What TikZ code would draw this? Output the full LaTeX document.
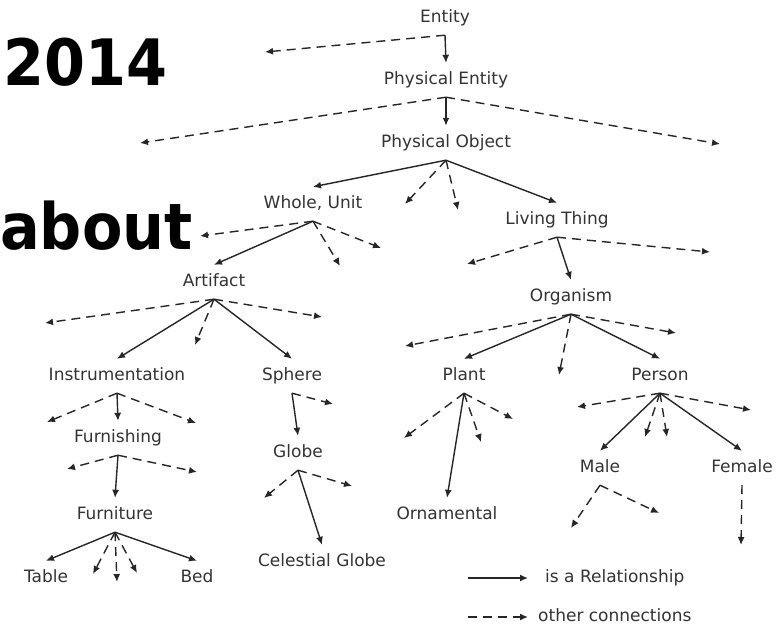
\documentclass[tikz,border=0pt]{standalone}
\usepackage{fontspec}
\setmainfont{DejaVu Sans}
\usetikzlibrary{arrows.meta}

\tikzset{
  concept/.style={inner sep=0pt, minimum height=34pt, text height=12pt, text depth=3.5pt,
    font=\fontsize{17}{17}\selectfont, text=black!80},
  legendtxt/.style={concept, anchor=west},
  bigword/.style={anchor=base west, inner sep=0pt, font=\bfseries\fontsize{64}{64}\selectfont},
  isa/.style={-{Latex[length=8pt,width=7pt]}, line width=1.4pt, draw=black!85},
  other/.style={isa, dash pattern=on 9pt off 6pt},
}

\begin{document}
\begin{tikzpicture}[x=1pt,y=-1pt]
\useasboundingbox (0,0) rectangle (784,627);

% Titulo
\node[bigword] (year) at (3,85) {\scalebox{0.92}[1]{2014}};
\node[bigword] (about) at (0,249) {\scalebox{0.92}[1]{about}};

% Conceptos
\node[concept] (entity) at (445,18) {Entity};
\node[concept] (physent) at (446,80) {Physical Entity};
\node[concept] (physobj) at (446,143) {Physical Object};
\node[concept] (whole) at (313,204) {Whole, Unit};
\node[concept] (living) at (557,220) {Living Thing};
\node[concept] (artifact) at (214,282) {Artifact};
\node[concept] (organism) at (571,297) {Organism};
\node[concept] (instr) at (117,376) {Instrumentation};
\node[concept] (sphere) at (292,376) {Sphere};
\node[concept] (plant) at (464,376) {Plant};
\node[concept] (person) at (660,376) {Person};
\node[concept] (furnishing) at (118,438) {Furnishing};
\node[concept] (globe) at (298,453) {Globe};
\node[concept] (male) at (600,468) {Male};
\node[concept] (female) at (742,468) {Female};
\node[concept] (furniture) at (115,515) {Furniture};
\node[concept] (ornamental) at (447,515) {Ornamental};
\node[concept] (celestial) at (322,562) {Celestial Globe};
\node[concept] (table) at (46,578) {Table};
\node[concept] (bed) at (197,578) {Bed};

% Extremos libres
\coordinate (en1) at (265,52);
\coordinate (pe1) at (140,143); \coordinate (pe2) at (720,144);
\coordinate (po1) at (405,204); \coordinate (po2) at (458,210);
\coordinate (wu1) at (200,236); \coordinate (wu2) at (340,266); \coordinate (wu3) at (381,248);
\coordinate (lt1) at (467,264); \coordinate (lt2) at (710,252);
\coordinate (ar1) at (45,323); \coordinate (ar2) at (195,345); \coordinate (ar3) at (322,317);
\coordinate (or1) at (405,346); \coordinate (or2) at (559,375); \coordinate (or3) at (676,333);
\coordinate (in1) at (47,422); \coordinate (in2) at (196,423);
\coordinate (sp1) at (333,404);
\coordinate (fs1) at (67,469); \coordinate (fs2) at (197,472);
\coordinate (gl1) at (264,498); \coordinate (gl2) at (352,486);
\coordinate (fu1) at (93,574); \coordinate (fu2) at (117,582); \coordinate (fu3) at (137,573);
\coordinate (pl1) at (404,438); \coordinate (pl2) at (481,442); \coordinate (pl3) at (513,419);
\coordinate (ps1) at (577,407); \coordinate (ps2) at (645,437); \coordinate (ps3) at (667,437);
\coordinate (ps4) at (751,410);
\coordinate (ma1) at (571,528); \coordinate (ma2) at (659,513);
\coordinate (fe1) at (741,545);

% Relaciones
\draw[isa] (entity.south) -- (physent.north);
\draw[other] (entity.south) -- (en1);
\draw[isa] (physent.south) -- (physobj.north);
\draw[other] (physent.south) -- (pe1);
\draw[other] (physent.south) -- (pe2);
\draw[isa] (physobj.south) -- (whole.north);
\draw[other] (physobj.south) -- (po1);
\draw[other] (physobj.south) -- (po2);
\draw[isa] (physobj.south) -- (living.north);
\draw[other] (whole.south) -- (wu1);
\draw[isa] (whole.south) -- (artifact.north);
\draw[other] (whole.south) -- (wu2);
\draw[other] (whole.south) -- (wu3);
\draw[other] (living.south) -- (lt1);
\draw[other] (living.south) -- (lt2);
\draw[isa] (living.south) -- (organism.north);
\draw[other] (artifact.south) -- (ar1);
\draw[isa] (artifact.south) -- (instr.north);
\draw[other] (artifact.south) -- (ar2);
\draw[isa] (artifact.south) -- (sphere.north);
\draw[other] (artifact.south) -- (ar3);
\draw[other] (organism.south) -- (or1);
\draw[isa] (organism.south) -- (plant.north);
\draw[other] (organism.south) -- (or2);
\draw[isa] (organism.south) -- (person.north);
\draw[other] (organism.south) -- (or3);
\draw[other] (instr.south) -- (in1);
\draw[isa] (instr.south) -- (furnishing.north);
\draw[other] (instr.south) -- (in2);
\draw[isa] (sphere.south) -- (globe.north);
\draw[other] (sphere.south) -- (sp1);
\draw[other] (furnishing.south) -- (fs1);
\draw[isa] (furnishing.south) -- (furniture.north);
\draw[other] (furnishing.south) -- (fs2);
\draw[other] (globe.south) -- (gl1);
\draw[isa] (globe.south) -- (celestial.north);
\draw[other] (globe.south) -- (gl2);
\draw[isa] (furniture.south) -- (table.north);
\draw[other] (furniture.south) -- (fu1);
\draw[other] (furniture.south) -- (fu2);
\draw[other] (furniture.south) -- (fu3);
\draw[isa] (furniture.south) -- (bed.north);
\draw[other] (plant.south) -- (pl1);
\draw[isa] (plant.south) -- (ornamental.north);
\draw[other] (plant.south) -- (pl2);
\draw[other] (plant.south) -- (pl3);
\draw[other] (person.south) -- (ps1);
\draw[isa] (person.south) -- (male.north);
\draw[other] (person.south) -- (ps2);
\draw[other] (person.south) -- (ps3);
\draw[isa] (person.south) -- (female.north);
\draw[other] (person.south) -- (ps4);
\draw[other] (male.south) -- (ma1);
\draw[other] (male.south) -- (ma2);
\draw[other] (female.south) -- (fe1);

% Leyenda
\node[legendtxt] (isatxt) at (545,578) {is a Relationship};
\node[legendtxt] (othertxt) at (538,617) {other connections};
\coordinate (la) at (468,578); \coordinate (lb) at (528,578);
\coordinate (lc) at (468,617); \coordinate (ld) at (528,617);
\draw[isa] (la) -- (lb);
\draw[other] (lc) -- (ld);
\end{tikzpicture}
\end{document}
